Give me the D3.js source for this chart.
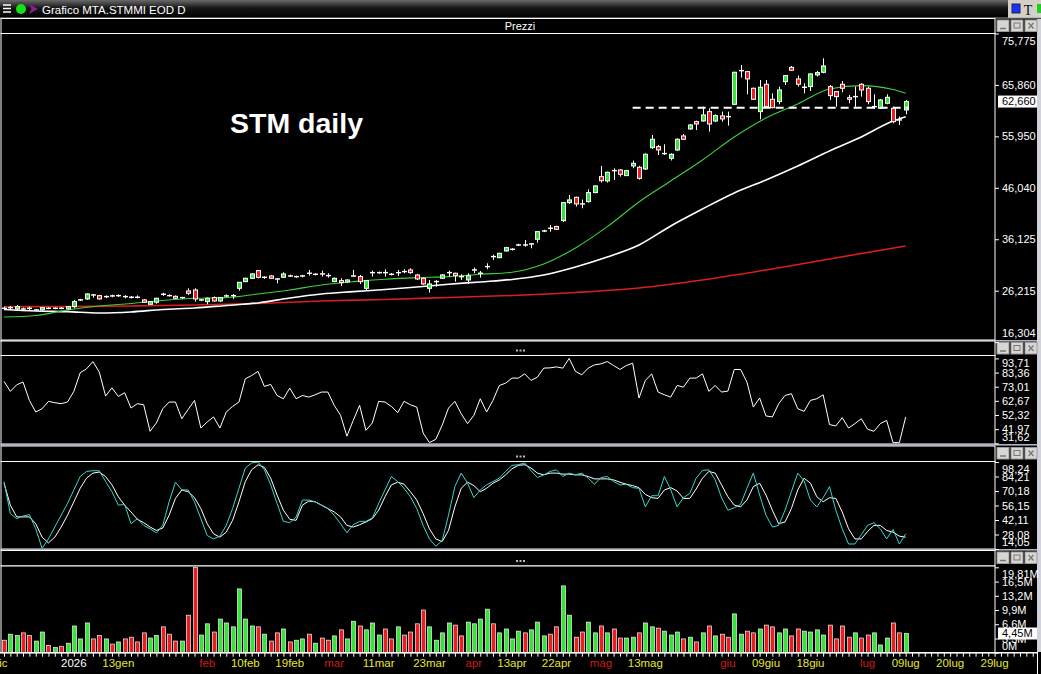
<!DOCTYPE html>
<html>
<head>
<meta charset="utf-8">
<script src="https://cdn.jsdelivr.net/npm/d3@7"></script>
<style>
  body { margin: 0; background: #000; overflow: hidden; }
  svg { display: block; font-family: "Liberation Sans", Arial, sans-serif; }
</style>
</head>
<body>
<svg id="chart" width="1041" height="674"></svg>
<script>
// ---- data (bar index 0 = 11 dic 2025, 142 = 09 lug 2026) ----
var opens = [22.86,22.92,22.69,22.73,22.86,22.46,22.50,22.86,22.78,22.86,
  22.69,23.14,24.39,24.62,25.43,25.26,25.03,25.24,25.22,25.11,
  24.98,24.98,24.43,23.59,23.98,25.56,25.30,25.13,24.84,26.16,
  26.35,24.39,24.10,24.88,24.23,25.16,25.22,26.67,27.96,28.60,
  30.08,28.76,29.05,28.51,28.79,29.09,28.88,29.01,29.61,29.33,
  29.48,29.16,27.96,28.15,27.89,29.00,28.92,26.67,29.65,29.65,
  29.73,29.41,29.65,29.93,30.21,29.24,28.60,26.67,27.92,28.60,
  29.65,29.57,28.96,28.28,30.17,29.53,30.81,32.82,32.58,33.87,
  34.15,34.98,35.06,35.18,36.12,37.68,38.28,38.56,39.71,43.18,
  44.21,42.97,43.38,45.11,48.19,47.36,49.39,49.48,48.39,50.25,
  49.99,49.67,53.78,53.97,52.59,51.73,53.33,56.03,57.38,58.79,
  58.92,60.72,58.92,59.89,59.80,62.13,68.58,68.43,65.22,60.72,
  65.99,63.10,62.65,66.50,69.26,67.02,65.37,65.54,67.79,68.30,
  65.54,64.57,65.99,63.42,63.57,65.99,65.22,61.64,61.36,62.33,
  61.36,59.16,61.04];
var highs = [23.14,23.27,23.46,22.95,23.14,22.70,23.05,23.05,22.98,23.05,
  23.25,24.43,24.65,25.71,25.58,25.39,25.30,25.45,25.50,25.35,
  25.20,25.30,24.62,24.20,24.85,25.80,25.50,25.30,25.00,26.67,
  26.67,24.60,24.88,25.10,25.00,25.50,25.58,27.83,28.73,29.57,
  30.21,28.95,29.20,28.60,29.76,29.30,29.10,29.25,30.21,29.55,
  30.08,29.57,28.73,28.60,28.40,30.21,29.24,28.28,30.08,29.90,
  30.34,29.60,30.21,30.34,30.53,29.45,28.75,28.28,28.28,29.40,
  30.08,29.69,29.37,29.57,30.66,30.01,31.49,33.16,33.50,34.65,
  34.40,35.25,35.99,35.35,37.59,37.95,38.88,38.75,43.18,44.66,
  44.34,43.77,45.75,46.50,50.25,49.16,49.80,49.61,49.50,51.28,
  50.30,52.69,56.22,54.30,54.42,52.70,55.58,56.40,58.30,58.99,
  61.68,61.36,60.20,60.72,60.72,68.43,69.71,68.56,65.35,66.82,
  66.82,64.25,65.54,67.79,69.52,67.66,66.18,68.11,68.56,71.00,
  65.86,64.70,66.63,63.93,65.54,66.18,65.54,64.06,63.16,64.06,
  61.68,59.76,62.97];
var lows = [22.50,22.63,22.50,22.45,22.37,22.30,22.40,22.65,22.65,22.65,
  22.55,22.82,24.25,24.43,24.88,24.50,24.80,24.95,25.00,24.75,
  24.70,24.75,23.85,23.50,23.70,25.20,25.10,24.60,24.65,25.39,
  24.10,24.20,23.59,24.10,24.05,25.00,24.62,26.22,27.83,28.47,
  28.60,28.50,28.50,27.64,28.73,28.85,28.70,28.80,29.12,29.15,
  28.92,28.73,27.85,27.12,27.75,28.92,27.51,26.35,28.92,29.45,
  28.92,29.15,29.05,29.57,29.45,28.30,27.35,25.84,26.99,28.50,
  28.92,27.96,28.28,27.51,29.57,28.73,30.34,32.13,32.45,33.75,
  33.95,34.80,34.70,34.38,35.47,37.50,37.59,37.90,39.45,42.93,
  42.41,42.09,43.18,45.00,47.04,47.04,47.55,48.19,48.30,49.80,
  47.60,49.48,53.53,52.37,52.37,51.30,53.14,55.30,57.25,57.19,
  58.79,56.87,58.70,58.79,58.02,62.01,67.27,64.06,62.97,59.24,
  61.49,61.36,62.13,65.86,68.56,65.54,64.25,64.70,67.47,68.11,
  62.97,61.68,64.45,62.33,61.36,63.61,62.13,61.23,61.23,62.13,
  58.47,58.15,60.21];
var closes = [22.78,22.98,23.14,22.65,22.78,22.54,22.95,22.78,22.86,22.78,
  23.14,24.10,24.47,25.58,25.35,24.62,25.11,25.16,25.30,25.03,
  24.90,24.90,23.98,24.10,24.75,25.48,25.22,24.75,24.92,25.71,
  24.62,24.47,24.75,24.23,24.88,25.24,25.30,27.83,28.60,29.44,
  28.79,28.83,28.60,28.43,29.44,29.01,28.96,29.09,29.53,29.41,
  29.40,29.08,28.60,27.77,28.28,29.08,27.96,28.15,29.73,29.73,
  29.65,29.33,29.73,29.85,29.69,28.47,27.51,27.51,28.00,29.24,
  29.73,29.11,28.88,29.11,30.25,29.61,30.89,32.74,33.42,34.51,
  34.23,35.06,34.98,35.26,37.59,37.76,38.20,38.04,43.18,43.70,
  42.93,42.89,45.11,46.40,47.42,49.03,49.31,48.64,49.35,50.76,
  47.87,52.50,55.39,53.33,52.67,52.50,55.39,55.39,58.15,58.34,
  60.08,58.34,59.95,59.31,59.72,68.30,68.66,67.02,63.10,65.41,
  61.68,61.49,64.89,67.66,68.69,65.99,65.45,67.98,68.24,69.52,
  63.80,63.61,65.22,63.10,63.65,64.89,62.65,61.72,62.97,63.48,
  58.79,59.08,62.66];

// volumes, millions
var volumes = [2.9,4.3,4.0,4.6,4.0,2.7,4.8,1.7,1.2,1.5,
  2.2,6.2,3.2,6.9,3.2,4.0,3.2,2.0,2.5,3.2,
  3.6,2.5,4.6,3.4,4.0,6.0,4.3,2.7,2.7,8.7,
  19.81,4.1,6.7,4.8,7.8,6.9,6.0,14.8,7.8,6.2,
  6.0,4.3,2.7,4.6,5.5,2.5,2.9,3.2,4.3,2.2,
  3.4,2.9,3.9,5.3,3.2,7.3,6.2,5.3,6.9,4.1,
  5.5,3.2,6.0,4.1,4.8,6.7,9.9,6.0,2.9,4.6,
  6.9,6.4,3.9,7.1,6.7,7.8,10.1,6.7,4.6,5.5,
  3.2,5.0,4.6,5.3,7.1,3.9,4.3,6.0,15.5,8.7,
  3.6,4.8,7.1,4.6,6.2,4.6,5.5,3.4,3.4,3.6,
  4.6,6.9,6.0,5.7,5.0,4.1,4.8,3.2,3.6,2.5,
  4.6,6.2,3.9,4.3,3.6,9.0,4.3,5.0,4.6,5.5,
  6.4,6.0,4.6,5.5,3.9,5.5,5.0,4.8,5.3,4.1,
  6.4,3.2,6.2,3.6,4.6,3.4,4.1,4.6,1.8,3.4,
  6.9,4.6,4.45];

var rsi = [76.9,69.6,74.4,76.4,63.0,54.5,56.9,62.3,61.3,60.6,
  61.8,69.6,83.2,86.1,91.4,83.7,66.2,72.2,65.9,68.6,
  57.4,60.6,59.8,40.4,46.5,56.9,61.8,61.8,49.6,56.4,
  63.0,42.8,47.2,50.9,42.8,54.5,58.6,61.8,78.8,81.2,
  84.2,73.2,74.7,66.6,64.2,72.0,64.2,66.6,65.4,67.1,
  69.1,69.1,59.4,52.1,36.8,48.4,59.4,41.1,46.5,62.3,
  61.8,58.6,54.0,62.3,59.8,58.1,39.2,32.1,34.6,44.8,
  57.4,62.3,53.3,46.0,52.1,64.2,54.5,63.0,73.9,75.6,
  79.3,79.3,82.4,77.6,80.0,86.6,86.8,87.5,86.6,93.7,
  84.2,81.7,86.6,89.0,89.7,91.4,88.5,85.6,88.5,90.2,
  64.7,77.6,82.4,69.1,67.1,65.4,73.9,72.7,79.3,79.3,
  82.4,69.6,73.9,69.1,69.8,85.6,85.6,76.4,58.1,64.7,
  51.6,50.9,60.6,66.6,67.9,56.9,55.0,63.0,64.2,67.1,
  45.3,44.3,50.4,42.8,46.0,49.6,41.9,40.4,46.0,48.4,
  32.1,32.1,50.9];

var stochK = [79.3,48.3,43.4,46.0,47.3,33.6,14.7,23.8,35.3,46.7,
  58.1,71.2,84.2,89.1,89.8,89.8,79.3,69.5,56.5,57.1,
  38.5,43.4,36.9,33.6,29.7,36.9,59.7,78.7,71.2,71.2,
  59.7,43.4,27.1,23.8,26.5,36.9,53.2,72.8,92.4,97.3,
  98.2,90.7,76.1,58.1,40.8,39.5,45.1,61.4,61.4,59.7,
  56.5,53.2,46.7,38.5,29.7,37.5,40.8,40.8,44.1,58.1,
  71.2,84.2,79.3,72.8,64.6,53.2,36.9,23.8,16.7,22.2,
  46.7,74.4,87.5,77.7,63.7,71.2,76.1,79.3,82.6,89.1,
  95.0,95.6,97.3,89.8,83.2,85.8,89.1,90.7,84.2,87.5,
  85.8,87.5,82.6,76.7,83.2,84.2,79.3,76.1,76.7,73.4,
  72.8,54.8,65.6,65.6,84.2,71.2,54.8,63.7,67.9,82.6,
  90.1,90.7,81.0,63.7,51.6,53.9,57.1,72.8,87.5,66.3,
  46.7,35.3,36.9,51.6,69.5,87.5,80.0,61.4,54.8,63.7,
  74.4,51.6,33.6,18.9,18.9,27.8,36.9,39.5,33.6,23.8,
  33.0,18.9,28.7];
var stochD = [77.7,56.5,45.1,45.1,45.1,38.5,25.5,19.9,25.5,35.3,
  46.7,59.7,72.8,82.6,87.5,88.5,84.2,76.1,64.6,56.5,
  49.9,42.8,39.5,35.3,32.0,34.3,46.7,63.0,71.2,69.5,
  63.7,53.2,38.5,28.7,25.5,30.4,41.8,59.7,79.3,90.7,
  95.6,93.0,82.6,66.3,51.6,42.8,41.8,56.5,60.4,59.7,
  56.5,53.2,49.9,45.1,36.9,35.3,37.5,40.2,43.4,51.6,
  64.6,76.1,78.7,76.7,69.5,61.4,48.3,33.6,23.8,21.2,
  32.0,54.8,72.8,78.7,75.4,69.5,72.8,77.7,80.9,85.8,
  91.7,95.0,95.6,92.4,87.5,85.8,87.5,87.5,86.5,86.5,
  85.8,85.8,84.2,81.9,81.9,81.9,80.9,78.7,76.7,75.4,
  73.4,66.9,63.7,63.0,71.2,73.4,70.2,63.0,63.0,72.1,
  82.6,89.1,87.5,76.1,64.6,56.5,54.8,61.4,74.4,77.7,
  66.3,51.6,38.5,40.2,53.2,71.2,82.6,77.7,64.6,59.7,
  63.7,63.0,49.9,33.6,23.8,23.8,31.0,36.9,36.9,32.0,
  30.4,26.5,25.5];

// moving averages, sampled [bar index, price]
var maGreen = [[0,21.15],[5,21.44],[10,22.50],[15,23.27],[20,23.75],[25,24.33],[30,24.75],
  [35,24.87],[40,25.58],[45,26.35],[50,27.32],[55,27.95],[60,28.42],[65,28.72],[70,28.92],
  [75,29.38],[80,29.77],[85,31.36],[90,34.45],[95,38.55],[100,43.31],[105,47.36],[110,51.41],
  [115,55.84],[120,59.50],[125,62.20],[130,65.09],[135,65.73],[140,64.99],[142,64.26]];
var maWhite = [[0,22.60],[5,22.31],[10,22.17],[15,21.92],[20,22.11],[25,22.60],[30,22.88],
  [35,23.37],[40,23.85],[45,24.81],[50,25.58],[55,26.03],[60,26.45],[65,26.93],[70,27.45],
  [75,27.90],[80,28.38],[85,29.24],[90,30.79],[95,32.71],[100,35.03],[105,38.69],[110,41.96],
  [115,45.05],[120,47.55],[125,50.25],[130,53.14],[135,55.84],[140,58.92],[142,59.75]];
var maRed = [[0,23.13],[10,23.17],[20,23.27],[30,23.46],[40,23.75],[50,24.23],[60,24.52],
  [70,24.91],[80,25.29],[90,25.87],[100,26.74],[110,28.28],[120,30.21],[130,32.33],[142,34.83]];

var supportLevel = 61.49, supportFrom = 99, supportTo = 142.5;

var priceTicks = [75.775, 65.86, 55.95, 46.04, 36.125, 26.215, 16.304];
var rsiTicks = [93.71, 83.36, 73.01, 62.67, 52.32, 41.97, 31.62];
var stochTicks = [98.24, 84.21, 70.18, 56.15, 42.11, 28.08, 14.05];
var volTicks = [19.81, 16.5, 13.2, 9.9, 6.6, 3.3, 0];
var volTickLabels = ["19,81M", "16,5M", "13,2M", "9,9M", "6,6M", "3,3M", "0M"];

var xLabelPos = [-0.6, 11, 18, 32, 38, 45, 52, 59, 67, 74, 80, 87, 94, 101, 114, 120, 127, 136, 142, 149, 156];
var xLabelText = ["dic", "2026", "13gen", "feb", "10feb", "19feb", "mar", "11mar", "23mar", "apr",
  "13apr", "22apr", "mag", "13mag", "giu", "09giu", "18giu", "lug", "09lug", "20lug", "29lug"];
var xLabelKind = ["d", "y", "d", "m", "d", "d", "m", "d", "d", "m",
  "d", "d", "m", "d", "m", "d", "d", "m", "d", "d", "d"];

// ---- layout ----
var svg = d3.select("#chart");
var plotR = 995, axisR = 1037;
var UP = "#33e633", DOWN = "#ee1c1c";
var kindColor = {d: "#e6e62e", m: "#d01818", y: "#ffffff"};
var itFmt = d3.formatLocale({decimal: ",", thousands: ".", grouping: [3], currency: ["", "€"]});

var panels = [
  {id: "price", head: 18.5, top: 33.5, bottom: 340, title: "Prezzi"},
  {id: "rsi", head: 341, top: 355.5, bottom: 444},
  {id: "stoch", head: 446, top: 461.5, bottom: 549},
  {id: "vol", head: 550.5, top: 566, bottom: 652.7}
];

var x = d3.scaleLinear().domain([0, 142]).range([4, 905.7]);
var yP = d3.scaleLinear().domain([16.304, 75.775]).range([342.1, 33.5]);
var yR = d3.scaleLinear().domain([31.62, 93.71]).range([443.3, 358.4]);
var yS = d3.scaleLinear().domain([14.05, 98.24]).range([549, 462]);
var yV = d3.scaleLinear().domain([0, 19.81]).range([652.7, 567.3]);

svg.append("rect").attr("width", 1041).attr("height", 674).attr("fill", "#000");

// title bar
var defs = svg.append("defs");
var grad = defs.append("linearGradient").attr("id", "tbar").attr("x1", 0).attr("y1", 0).attr("x2", 0).attr("y2", 1);
grad.append("stop").attr("offset", "0").attr("stop-color", "#6a6a6a");
grad.append("stop").attr("offset", "0.45").attr("stop-color", "#151515");
grad.append("stop").attr("offset", "1").attr("stop-color", "#000");
svg.append("rect").attr("x", 0).attr("y", 0).attr("width", 1008).attr("height", 18).attr("fill", "url(#tbar)");
svg.append("rect").attr("x", 1008).attr("y", 0).attr("width", 33).attr("height", 18).attr("fill", "#d4d0c8");
svg.append("line").attr("x1", 0).attr("x2", 1041).attr("y1", 18).attr("y2", 18).attr("stroke", "#a0a0a0");
[5, 8.5, 12].forEach(function(yy) {
  svg.append("line").attr("x1", 3).attr("x2", 11).attr("y1", yy).attr("y2", yy).attr("stroke", "#fff").attr("stroke-width", 1.5);
});
svg.append("circle").attr("cx", 21).attr("cy", 9).attr("r", 5).attr("fill", "#18e018");
svg.append("path").attr("d", "M29,4 L38,9 L29,14 L31.5,9 Z").attr("fill", "#8c1c8c");
svg.append("text").attr("x", 42).attr("y", 13.5).attr("fill", "#fff").attr("font-size", 11.5)
  .text("Grafico MTA.STMMI EOD D");
svg.append("rect").attr("x", 1012).attr("y", 4).attr("width", 8).attr("height", 9).attr("fill", "#1432ff").attr("stroke", "#223");
svg.append("text").attr("x", 1028).attr("y", 15).attr("text-anchor", "middle").attr("font-family", "Liberation Serif, serif")
  .attr("font-size", 14).attr("fill", "#111").text("T");
svg.append("rect").attr("x", 1037).attr("y", 4).attr("width", 4).attr("height", 9).attr("fill", "#2c2");

// right grey strip
svg.append("rect").attr("x", axisR).attr("y", 19).attr("width", 4).attr("height", 633).attr("fill", "#d0d4da");

// panel frames
panels.forEach(function(p) {
  svg.append("rect").attr("x", 1).attr("y", p.head).attr("width", plotR - 1).attr("height", p.top - p.head)
    .attr("fill", "#000").attr("stroke", "#fff");
  svg.append("rect").attr("x", 1).attr("y", p.top).attr("width", plotR - 1).attr("height", p.bottom - p.top)
    .attr("fill", "#000").attr("stroke", "#fff");
  if (p.title) {
    svg.append("text").attr("x", 520).attr("y", p.head + 11).attr("text-anchor", "middle")
      .attr("fill", "#fff").attr("font-size", 11).text(p.title);
  } else {
    [516, 519.5, 523].forEach(function(xx) {
      svg.append("rect").attr("x", xx).attr("y", p.top - 6).attr("width", 2).attr("height", 2).attr("fill", "#bbb");
    });
  }
  // window buttons
  [997, 1011, 1025].forEach(function(bx, k) {
    var by = p.head + 1.5;
    svg.append("rect").attr("x", bx).attr("y", by).attr("width", 12).attr("height", 11.5)
      .attr("fill", "#d8d6d2").attr("stroke", "#9a9a9a");
    if (k === 0) svg.append("line").attr("x1", bx + 3).attr("x2", bx + 9).attr("y1", by + 8.5).attr("y2", by + 8.5).attr("stroke", "#777").attr("stroke-width", 1.5);
    if (k === 1) svg.append("rect").attr("x", bx + 3).attr("y", by + 3).attr("width", 6).attr("height", 5).attr("fill", "none").attr("stroke", "#777");
    if (k === 2) svg.append("path").attr("d", "M" + (bx + 3.5) + "," + (by + 3) + "l5,5.5M" + (bx + 8.5) + "," + (by + 3) + "l-5,5.5").attr("stroke", "#777").attr("stroke-width", 1.3);
  });
  if (p.id !== "vol") {
    svg.append("rect").attr("x", 0).attr("y", p.bottom).attr("width", axisR).attr("height", 1.6).attr("fill", "#aab4c2");
  }
  defs.append("clipPath").attr("id", "clip-" + p.id).append("rect")
    .attr("x", 1.5).attr("y", p.top + 0.5).attr("width", plotR - 2).attr("height", p.bottom - p.top - 1);
});

function panelG(id) { return svg.append("g").attr("clip-path", "url(#clip-" + id + ")"); }

// ---- price panel ----
var bars = d3.range(closes.length);
var gp = panelG("price");

gp.append("path").datum(maRed).attr("fill", "none").attr("stroke", "#d81e1e").attr("stroke-width", 1.6)
  .attr("d", d3.line().x(function(d) { return x(d[0]); }).y(function(d) { return yP(d[1]); }).curve(d3.curveMonotoneX));
gp.append("path").datum(maWhite).attr("fill", "none").attr("stroke", "#fff").attr("stroke-width", 1.6)
  .attr("d", d3.line().x(function(d) { return x(d[0]); }).y(function(d) { return yP(d[1]); }).curve(d3.curveMonotoneX));
gp.append("path").datum(maGreen).attr("fill", "none").attr("stroke", "#3cd23c").attr("stroke-width", 1.1)
  .attr("d", d3.line().x(function(d) { return x(d[0]); }).y(function(d) { return yP(d[1]); }).curve(d3.curveMonotoneX));

gp.selectAll(".wick").data(bars).enter().append("line")
  .attr("class", "wick")
  .attr("x1", function(i) { return Math.round(x(i)) + 0.5; })
  .attr("x2", function(i) { return Math.round(x(i)) + 0.5; })
  .attr("y1", function(i) { return yP(highs[i]); })
  .attr("y2", function(i) { return yP(lows[i]); })
  .attr("stroke", "#fff").attr("stroke-width", 1);

gp.selectAll(".body").data(bars).enter().append("rect")
  .attr("class", "body")
  .attr("x", function(i) { return Math.round(x(i)) - 1.5; })
  .attr("width", 4)
  .attr("y", function(i) { return yP(Math.max(opens[i], closes[i])); })
  .attr("height", function(i) { return Math.max(0.4, Math.abs(yP(opens[i]) - yP(closes[i]))); })
  .attr("fill", function(i) { return closes[i] >= opens[i] ? UP : DOWN; })
  .attr("stroke", "#fff").attr("stroke-width", 1);

gp.append("line")
  .attr("x1", x(supportFrom)).attr("x2", x(supportTo))
  .attr("y1", yP(supportLevel)).attr("y2", yP(supportLevel))
  .attr("stroke", "#fff").attr("stroke-width", 2).attr("stroke-dasharray", "8,5");

svg.append("text").attr("x", 230).attr("y", 133).attr("fill", "#fff")
  .attr("font-size", 28.5).attr("font-weight", "bold").text("STM daily");

// ---- RSI ----
var gr = panelG("rsi");
gr.append("path").datum(rsi).attr("fill", "none").attr("stroke", "#fff").attr("stroke-width", 1)
  .attr("d", d3.line().x(function(d, i) { return x(i); }).y(function(d) { return yR(d); }));

// ---- stochastic ----
var gs = panelG("stoch");
gs.append("path").datum(stochD).attr("fill", "none").attr("stroke", "#fff").attr("stroke-width", 1)
  .attr("d", d3.line().x(function(d, i) { return x(i); }).y(function(d) { return yS(d); }));
gs.append("path").datum(stochK).attr("fill", "none").attr("stroke", "#3ad6cf").attr("stroke-width", 1)
  .attr("d", d3.line().x(function(d, i) { return x(i); }).y(function(d) { return yS(d); }));

// ---- volume ----
var gv = panelG("vol");
gv.selectAll(".vbar").data(bars).enter().append("rect")
  .attr("class", "vbar")
  .attr("x", function(i) { return Math.round(x(i)) - 1.5; })
  .attr("width", 4)
  .attr("y", function(i) { return yV(volumes[i]); })
  .attr("height", function(i) { return yV(0) - yV(volumes[i]); })
  .attr("fill", function(i) { return closes[i] >= opens[i] ? UP : DOWN; })
  .attr("stroke", "#f4f4f4").attr("stroke-width", 0.7);

// ---- right axes ----
function yAxis(scale, ticks, fmt, p) {
  var g = svg.append("g").attr("transform", "translate(" + plotR + ",0)")
    .call(d3.axisRight(scale).tickValues(ticks).tickFormat(fmt).tickSize(4).tickPadding(3));
  g.attr("font-size", 11).attr("font-family", "Liberation Sans, Arial, sans-serif");
  g.select(".domain").remove();
  g.selectAll("line").attr("stroke", "#fff");
  g.selectAll("text").attr("fill", "#fff")
    .attr("y", function(d) {
      var yy = Math.max(p.top + 7.5, Math.min(p.bottom - 7, scale(d)));
      return yy - scale(d);
    });
  return g;
}
yAxis(yP, priceTicks, itFmt.format(".3f"), panels[0]);
yAxis(yR, rsiTicks, itFmt.format(".2f"), panels[1]);
yAxis(yS, stochTicks, itFmt.format(".2f"), panels[2]);
yAxis(yV, volTicks, function(d, i) { return volTickLabels[i]; }, panels[3]);

function lastBox(yy, label) {
  svg.append("rect").attr("x", 998).attr("y", yy - 6).attr("width", 39).attr("height", 12).attr("fill", "#fff");
  svg.append("text").attr("x", 1002).attr("y", yy).attr("dy", "0.35em").attr("fill", "#000")
    .attr("font-size", 11).text(label);
}
lastBox(yP(closes[closes.length - 1]), itFmt.format(".3f")(closes[closes.length - 1]));
lastBox(yV(volumes[volumes.length - 1]), itFmt.format(".2f")(volumes[volumes.length - 1]) + "M");

// ---- x axis ----
svg.append("line").attr("x1", 0).attr("x2", axisR).attr("y1", 652.7).attr("y2", 652.7).attr("stroke", "#fff").attr("stroke-width", 1.4);
svg.append("line").attr("x1", axisR + 0.5).attr("x2", axisR + 0.5).attr("y1", 652).attr("y2", 674).attr("stroke", "#fff");
var xa = svg.append("g").attr("transform", "translate(0,652.7)")
  .call(d3.axisBottom(x).tickValues(d3.range(-1, 163)).tickSize(4).tickFormat(""));
xa.select(".domain").remove();
xa.selectAll("line").attr("stroke", "#fff");

svg.selectAll(".xlab").data(xLabelPos).enter().append("text")
  .attr("class", "xlab")
  .attr("x", function(d) { return x(d); })
  .attr("y", 667)
  .attr("text-anchor", "middle")
  .attr("font-size", 11.5)
  .attr("fill", function(d, i) { return kindColor[xLabelKind[i]]; })
  .text(function(d, i) { return xLabelText[i]; });
</script>
</body>
</html>
